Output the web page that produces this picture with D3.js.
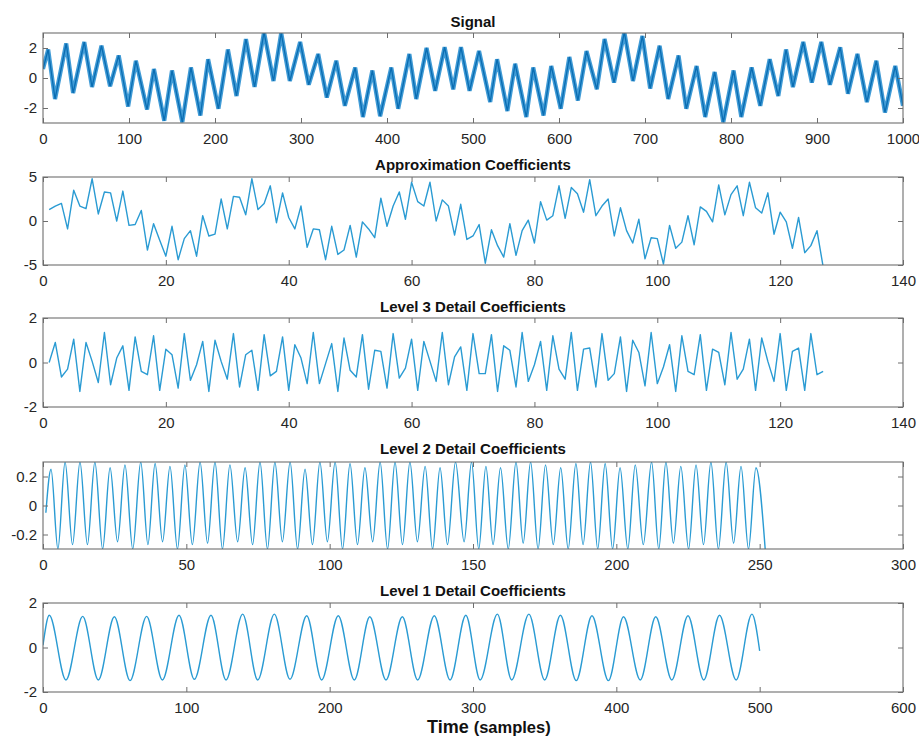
<!DOCTYPE html>
<html><head><meta charset="utf-8">
<script src="https://cdn.jsdelivr.net/npm/d3@7"></script>
<style>body{margin:0;background:#fff} text{font-family:"Liberation Sans",Arial,Helvetica,sans-serif}</style>
</head><body><svg id="c" width="919" height="736"></svg>
<script>
// ---- Data ----
// Signal: [sample, value] at the visible peaks/troughs of the waveform
const signalPoints = [[0,0.6],[6,1.9],[14,-1.4],[27,2.3],[35,-1.0],[48,2.4],[57,-0.6],[68,2.15],[78,-0.55],[88,1.5],[99,-1.9],[108,1.15],[121,-2.1],[129,0.6],[141,-2.85],[150,0.5],[162,-2.95],[172,0.7],[183,-2.5],[192,1.25],[204,-2.05],[215,1.9],[225,-1.2],[236,2.6],[246,-0.6],[257,3.05],[268,-0.2],[277,3.0],[287,-0.2],[299,2.4],[309,-0.45],[320,1.6],[330,-1.3],[341,1.15],[351,-1.85],[363,0.7],[372,-2.6],[383,0.5],[392,-2.55],[405,0.7],[413,-2.05],[426,1.6],[434,-1.4],[446,2.0],[456,-0.85],[467,2.05],[477,-0.75],[486,2.05],[496,-0.85],[507,1.8],[520,-1.6],[528,1.25],[540,-2.2],[549,0.95],[562,-2.6],[570,0.7],[582,-2.5],[591,0.8],[602,-2.05],[612,1.4],[622,-1.5],[632,1.8],[644,-0.75],[653,2.6],[664,-0.3],[676,3.05],[686,-0.2],[697,2.8],[706,-0.7],[717,2.15],[727,-1.4],[739,1.5],[748,-2.05],[760,0.8],[770,-2.6],[781,0.4],[791,-2.95],[803,0.5],[812,-2.6],[824,0.7],[834,-1.85],[845,1.25],[855,-1.2],[864,1.9],[872,-0.6],[884,2.4],[894,-0.3],[905,2.4],[915,-0.45],[927,2.05],[936,-1.05],[947,1.6],[958,-1.6],[969,1.15],[979,-2.3],[991,0.8],[1000,-1.85]];

// Approximation coefficients, index 1..127
const approxValues = [1.3,1.7,2.0,-0.9,3.5,1.7,1.4,4.8,0.8,3.3,
 3.2,0,3.4,-0.5,-0.4,1.2,-3.3,-0.3,-2.2,-4.0,
 -0.6,-4.4,-2.0,-1.1,-4.0,0.6,-1.7,-1.5,2.5,-0.9,
 2.8,2.7,0.7,4.8,1.3,2.0,4.0,-0.2,3.2,0.4,
 -0.9,1.7,-3.0,-0.9,-1.0,-4.4,-0.6,-3.8,-3.3,-0.5,
 -4.1,-0.1,-0.9,-1.9,2.6,-0.6,1.7,3.3,0.2,4.4,
 2.2,1.7,4.4,0,2.4,1.7,-1.6,1.9,-2.1,-1.7,
 -0.4,-4.8,-1.0,-2.8,-4.1,-0.3,-3.9,-1.1,0.1,-2.5,
 2.2,0.1,0.6,4.0,0.3,3.8,3.1,1.0,4.7,0.6,
 1.7,2.5,-1.7,1.5,-1.1,-2.5,0.2,-4.3,-1.9,-2.0,
 -4.9,-0.5,-3.1,-2.4,0.6,-2.7,1.6,1.1,-0.1,4.1,
 0.7,3.0,4.0,0.6,4.4,1.5,0.9,3.2,-1.5,1.0,
 -0.1,-3.1,0.4,-3.6,-2.8,-1.1,-5.2];

// Level 3 detail coefficients, index 1..127
const level3Values = [0.0,0.9,-0.65,-0.3,1.05,-1.3,0.9,0.05,-0.9,1.35,
 -1.0,0.2,0.75,-1.25,1.15,-0.4,-0.55,1.2,-1.25,0.6,
 0.35,-1.15,1.3,-0.8,-0.1,0.95,-1.3,1.0,0.05,-0.75,
 1.3,-1.1,0.35,0.55,-1.25,1.25,-0.6,-0.4,1.15,-1.25,
 0.8,0.2,-0.95,1.35,-0.95,-0.05,0.85,-1.3,1.1,-0.35,
 -0.65,1.25,-1.2,0.55,0.5,-1.15,1.3,-0.7,-0.25,1.05,
 -1.25,0.95,0.05,-0.85,1.35,-1.0,0.25,0.7,
 -1.25,1.3,-0.5,-0.5,1.25,-1.3,0.75,0.55,-1.1,1.35,
 -0.85,-0.1,0.95,-1.25,1.2,-0.3,-0.75,1.35,-1.25,0.6,
 0.65,-1.1,1.3,-0.8,-0.5,1.15,-1.3,1.0,0.45,-1.05,
 1.35,-0.95,-0.2,0.8,-1.3,1.2,-0.4,-0.55,1.25,-1.25,
 0.6,0.45,-1.0,1.35,-0.75,-0.3,1.05,-1.25,1.1,0.05,
 -0.85,1.3,-1.25,0.5,0.65,-1.25,1.3,-0.55,-0.4];

// Level 2 detail coefficients: [sample, value] at peaks/troughs
const level2Points = [[1,-0.05],[2.8,0.25],[5.2,-0.3],[7.7,0.3],[10.3,-0.27],[12.9,0.3],[15.5,-0.27],[18.1,0.3],[20.8,-0.3],[23.4,0.26],[26.0,-0.25],[28.6,0.28],[31.3,-0.3],[34.1,0.3],[36.6,-0.27],[39.1,0.29],[41.7,-0.25],[44.3,0.27],[46.9,-0.3],[49.5,0.28],[52.1,-0.27],[54.8,0.3],[57.4,-0.26],[60.0,0.3],[62.6,-0.3],[65.2,0.28],[67.9,-0.25],[70.5,0.26],[73.1,-0.27],[75.7,0.3],[78.3,-0.3],[80.9,0.3],[83.5,-0.25],[86.2,0.3],[88.8,-0.3],[91.4,0.25],[94.0,-0.27],[96.6,0.3],[99.2,-0.25],[101.9,0.3],[104.5,-0.3],[107.1,0.29],[109.7,-0.27],[112.3,0.26],[115.0,-0.25],[117.6,0.3],[120.2,-0.3],[122.8,0.3],[125.4,-0.27],[128.0,0.3],[130.6,-0.25],[133.3,0.27],[135.9,-0.3],[138.5,0.26],[141.1,-0.27],[143.9,0.3],[146.9,-0.25],[149.5,0.3],[152.0,-0.3],[154.5,0.27],[157.0,-0.27],[159.6,0.26],[162.3,-0.3],[165.0,0.3],[167.5,-0.26],[170.1,0.3],[172.7,-0.3],[175.3,0.28],[178.0,-0.27],[180.6,0.26],[183.2,-0.3],[185.9,0.29],[188.4,-0.27],[191.0,0.3],[193.5,-0.3],[196.1,0.29],[198.7,-0.3],[201.3,0.26],[204.0,-0.3],[206.6,0.28],[209.4,-0.27],[212.3,0.3],[214.8,-0.3],[217.3,0.3],[219.9,-0.26],[222.5,0.27],[225.2,-0.3],[227.8,0.28],[230.4,-0.27],[233.0,0.3],[235.6,-0.3],[238.3,0.3],[240.9,-0.26],[243.5,0.27],[246.1,-0.3],[248.7,0.26],[252.0,-0.32]];

// Level 1 detail coefficients: [sample, value] at peaks/troughs
const level1Points = [[0,0.1],[4.4,1.45],[16,-1.46],[27.7,1.4],[38.6,-1.46],[49.8,1.38],[60.7,-1.49],[72.3,1.4],[83.3,-1.46],[94.9,1.45],[105.6,-1.43],[117.2,1.45],[127.7,-1.46],[139.3,1.5],[149.8,-1.46],[161.4,1.5],[172.3,-1.43],[184,1.43],[194.4,-1.46],[206,1.43],[217.2,-1.46],[228,1.38],[239.3,-1.46],[250.7,1.38],[261.4,-1.46],[273,1.43],[284,-1.46],[295,1.45],[305,-1.46],[317,1.5],[327,-1.46],[339,1.5],[350,-1.46],[361,1.45],[372,-1.49],[383,1.43],[394.5,-1.49],[405,1.38],[416.7,-1.46],[427.5,1.38],[438.7,-1.46],[450,1.43],[461,-1.46],[472,1.45],[483.6,-1.46],[494.6,1.5],[500,-0.15]];

const panelTitles = ["Signal","Approximation Coefficients","Level 3 Detail Coefficients","Level 2 Detail Coefficients","Level 1 Detail Coefficients"];
const xTickValues = [d3.range(0,1001,100), d3.range(0,141,20), d3.range(0,141,20), d3.range(0,301,50), d3.range(0,601,100)];
const yTickValues = [[-2,0,2],[-5,0,5],[-2,0,2],[-0.2,0,0.2],[-2,0,2]];
const xAxisLabel = ["Time", "(samples)"];

// ---- Layout ----
const svg = d3.select("#c");
const left = 43, right = 903;
const layout = [
  {top:33, bottom:123, xd:[0,1000], yd:[-3,3], titleY:27},
  {top:177, bottom:265, xd:[0,140], yd:[-5,5], titleY:170},
  {top:318, bottom:407, xd:[0,140], yd:[-2,2], titleY:312},
  {top:462, bottom:549, xd:[0,300], yd:[-0.3,0.3], titleY:454},
  {top:603, bottom:692, xd:[0,600], yd:[-2,2], titleY:596}
];
const series = [
  signalPoints,
  approxValues.map((v,i)=>[i+1,v]),
  level3Values.map((v,i)=>[i+1,v]),
  level2Points,
  level1Points
];
const curves = [d3.curveLinear, d3.curveLinear, d3.curveLinear, d3.curveMonotoneX, d3.curveMonotoneX];
const axisColor = "#6e6e6e", labelColor = "#262626";
const fmt = d => String(d);

layout.forEach((L, k) => {
  const x = d3.scaleLinear().domain(L.xd).range([left, right]);
  const y = d3.scaleLinear().domain(L.yd).range([L.bottom, L.top]);
  const g = svg.append("g");
  const clipId = "clip" + k;
  svg.append("clipPath").attr("id", clipId).append("rect")
    .attr("x", left).attr("y", L.top).attr("width", right-left).attr("height", L.bottom-L.top);

  const line = d3.line().x(d=>x(d[0])).y(d=>y(d[1])).curve(curves[k]);
  const lg = g.append("g").attr("clip-path", `url(#${clipId})`);
  if (k === 0) {
    lg.append("path").datum(series[k]).attr("d", line).attr("fill","none")
      .attr("stroke","#2b90d2").attr("stroke-opacity",0.9).attr("stroke-width",4.2)
      .attr("stroke-linejoin","miter").attr("stroke-miterlimit",3);
    lg.append("path").datum(series[k]).attr("d", line).attr("fill","none")
      .attr("stroke","#0a6db2").attr("stroke-width",1.3);
  } else {
    lg.append("path").datum(series[k]).attr("d", line).attr("fill","none")
      .attr("stroke","#2a9bd3").attr("stroke-width",1.4).attr("stroke-linejoin","round");
  }

  const ax = g.append("g").attr("transform",`translate(0,${L.bottom})`)
    .call(d3.axisBottom(x).tickValues(xTickValues[k]).tickFormat(fmt).tickSizeInner(-5).tickSizeOuter(0).tickPadding(10));
  const axT = g.append("g").attr("transform",`translate(0,${L.top})`)
    .call(d3.axisTop(x).tickValues(xTickValues[k]).tickFormat("").tickSizeInner(-5).tickSizeOuter(0));
  const ay = g.append("g").attr("transform",`translate(${left},0)`)
    .call(d3.axisLeft(y).tickValues(yTickValues[k]).tickFormat(fmt).tickSizeInner(-5).tickSizeOuter(0).tickPadding(6));
  const ayR = g.append("g").attr("transform",`translate(${right},0)`)
    .call(d3.axisRight(y).tickValues(yTickValues[k]).tickFormat("").tickSizeInner(-5).tickSizeOuter(0));
  [ax, axT, ay, ayR].forEach(a => {
    a.select(".domain").remove();
    a.selectAll(".tick line").attr("stroke", axisColor);
    a.selectAll("text").attr("fill", labelColor).style("font-size","15px")
      .style("font-family",'"Liberation Sans",Arial,sans-serif');
  });
  g.append("rect").attr("x", left).attr("y", L.top).attr("width", right-left).attr("height", L.bottom-L.top)
    .attr("fill","none").attr("stroke", axisColor).attr("stroke-width",1.1);

  g.append("text").attr("x", (left+right)/2).attr("y", L.titleY).attr("text-anchor","middle")
    .style("font-weight","bold").style("font-size","15px").attr("fill","#111").text(panelTitles[k]);
});

const xl = svg.append("text").attr("x", 427).attr("y", 733).attr("fill","#111")
  .style("font-weight","bold").style("font-size","18px");
xl.append("tspan").text(xAxisLabel[0] + " ");
xl.append("tspan").style("font-size","16.5px").text(xAxisLabel[1]);
</script></body></html>
